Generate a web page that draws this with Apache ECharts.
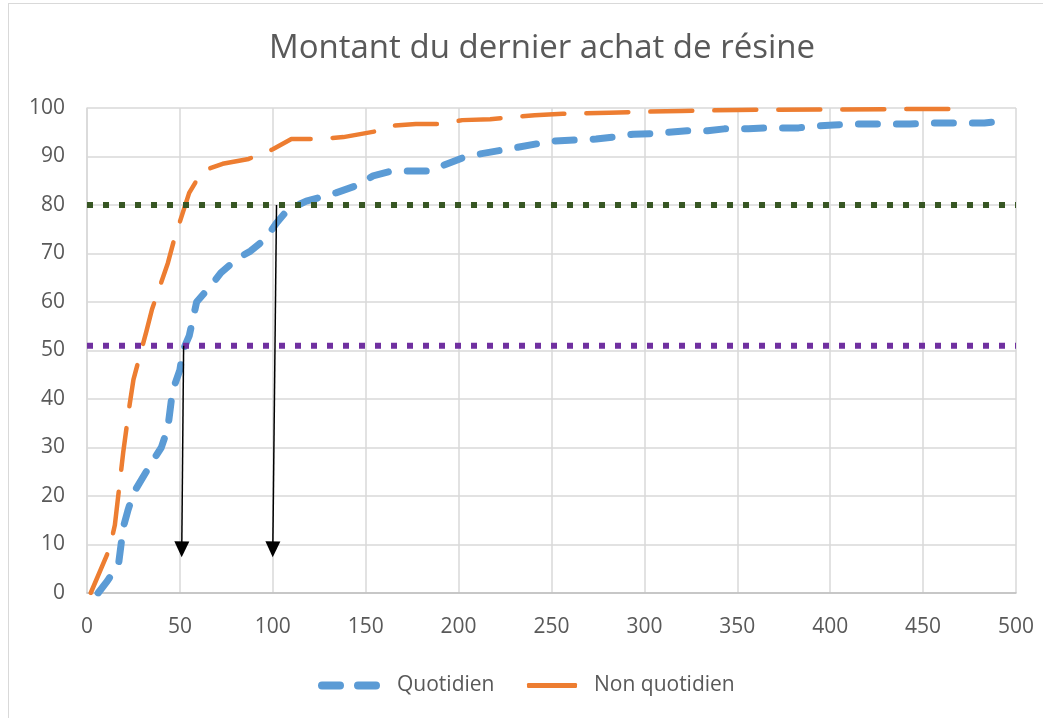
<!DOCTYPE html>
<html>
<head>
<meta charset="utf-8">
<script src="https://cdn.jsdelivr.net/npm/echarts@6/dist/echarts.min.js"></script>
<style>
  html, body { margin: 0; padding: 0; background: #fff; }
  #frame { position: absolute; left: 8px; top: 3px; width: 1100px; height: 800px;
           border-left: 1.5px solid #d9d9d9; border-top: 1.5px solid #d9d9d9; }
  #chart { position: absolute; left: 0; top: 0; width: 1043px; height: 718px; }
</style>
</head>
<body>
<div id="frame"></div>
<div id="chart"></div>
<script>
// données (montant en €, % cumulé)
var quotidienMontant = [6, 11, 17, 19.5, 22, 25, 35, 40, 43.5, 46, 50, 51.6, 55, 59, 68, 72, 81, 88, 96, 102, 108, 118, 134, 145, 154, 164, 174, 184, 194, 202, 211, 226, 242, 251, 263, 274, 283, 294, 303, 313, 323, 334, 343, 356, 366, 383, 393, 402, 413, 424, 434, 443, 456, 476, 483, 492, 496];
var quotidienCumul   = [0, 2.5, 6, 13.5, 17, 20.6, 27, 30, 34, 41.6, 46, 50, 53, 60, 64, 66, 69, 70.5, 73, 76.3, 79, 80.8, 82.5, 84, 86, 87, 87, 87, 88.5, 89.7, 90.5, 91.5, 92.6, 93.2, 93.4, 93.6, 94, 94.6, 94.7, 95, 95.3, 95.3, 95.7, 95.7, 95.9, 95.9, 96.3, 96.5, 96.7, 96.7, 96.7, 96.7, 96.9, 96.9, 96.9, 97.3, 98];

var nonQuotidienMontant = [2, 12, 15, 18, 19.5, 23, 25, 32, 35, 43.5, 47, 55, 62, 73, 87, 100, 110, 124, 138, 157, 163, 177, 190, 202, 217, 241, 256, 281, 296, 320, 350, 400, 450, 474];
var nonQuotidienCumul   = [0, 9, 14, 24, 29, 39, 44, 54, 58.5, 68, 73, 82.5, 87, 88.5, 89.5, 91.5, 93.6, 93.6, 94, 95.3, 96.3, 96.7, 96.7, 97.5, 97.7, 98.5, 98.8, 99, 99.2, 99.4, 99.6, 99.7, 99.8, 99.8];

var seuil80 = 80;
var seuil51 = 51;
var xMax = 500;

// flèches : [x haut, y haut, x bas, y bas]
var fleches = [
  [52, 51, 51, 9],
  [102, 80, 100, 9]
];

function zip(xs, ys) {
  return xs.map(function (x, i) { return [x, ys[i]]; });
}

var chart = echarts.init(document.getElementById('chart'));
var txt = '#595959';
var font = 'Open Sans';
var legendText = { color: txt, fontFamily: font, fontSize: 21, padding: [0, 0, 0, 12] };
// icône « tirets » de la légende
var iconTirets = 'path://M4,0 H22 A4,4 0 0 1 22,8 H4 A4,4 0 0 1 4,0 Z M40,0 H58 A4,4 0 0 1 58,8 H40 A4,4 0 0 1 40,0 Z';

chart.setOption({
  animation: false,
  title: {
    text: 'Montant du dernier achat de résine',
    left: 537,
    textAlign: 'center',
    top: 27,
    textStyle: { color: txt, fontFamily: font, fontSize: 33, fontWeight: 'normal' }
  },
  legend: [
    {
      data: [{ name: 'Quotidien', icon: iconTirets }],
      left: 313, top: 670,
      itemWidth: 62, itemHeight: 8,
      textStyle: legendText
    },
    {
      data: [{ name: 'Non quotidien', icon: 'roundRect' }],
      left: 522, top: 670,
      itemWidth: 50, itemHeight: 5,
      textStyle: legendText
    }
  ],
  grid: { left: 87, right: 27, top: 108, bottom: 125, containLabel: false },
  xAxis: {
    type: 'value',
    min: 0, max: xMax, interval: 50,
    axisLine: { show: true, lineStyle: { color: '#bfbfbf', width: 1.5 } },
    axisTick: { show: false },
    axisLabel: { color: txt, fontFamily: font, fontSize: 21, margin: 24 },
    splitLine: { show: true, lineStyle: { color: '#d9d9d9', width: 1.5 } }
  },
  yAxis: {
    type: 'value',
    min: 0, max: 100, interval: 10,
    axisLine: { show: true, lineStyle: { color: '#d9d9d9', width: 1.5 } },
    axisTick: { show: false },
    axisLabel: { color: txt, fontFamily: font, fontSize: 21, margin: 22 },
    splitLine: { show: true, lineStyle: { color: '#d9d9d9', width: 1.5 } }
  },
  series: [
    {
      name: 'Quotidien',
      type: 'line',
      data: zip(quotidienMontant, quotidienCumul),
      showSymbol: false,
      symbol: 'none',
      color: '#5b9bd5',
      lineStyle: { color: '#5b9bd5', width: 7, type: [19, 19], cap: 'round', join: 'round' },
      z: 3
    },
    {
      name: 'Non quotidien',
      type: 'line',
      data: zip(nonQuotidienMontant, nonQuotidienCumul),
      showSymbol: false,
      symbol: 'none',
      color: '#ed7d31',
      lineStyle: { color: '#ed7d31', width: 4.5, type: [42, 22], cap: 'round', join: 'round' },
      z: 3
    },
    {
      name: 'seuil80',
      type: 'line',
      data: [[0, seuil80], [xMax, seuil80]],
      symbol: 'none',
      lineStyle: { color: '#375623', width: 6, type: [6, 10] },
      z: 4
    },
    {
      name: 'seuil51',
      type: 'line',
      data: [[0, seuil51], [xMax, seuil51]],
      symbol: 'none',
      lineStyle: { color: '#7030a0', width: 6, type: [6, 10] },
      z: 4
    },
    {
      name: 'fleches',
      type: 'line',
      data: [],
      markLine: {
        silent: true,
        symbol: ['none', 'triangle'],
        symbolSize: [15, 16],
        label: { show: false },
        lineStyle: { color: '#000', width: 1.5, type: 'solid' },
        data: fleches.map(function (f) {
          return [{ coord: [f[0], f[1]] }, { coord: [f[2], f[3]] }];
        })
      },
      z: 5
    }
  ]
});
</script>
</body>
</html>
